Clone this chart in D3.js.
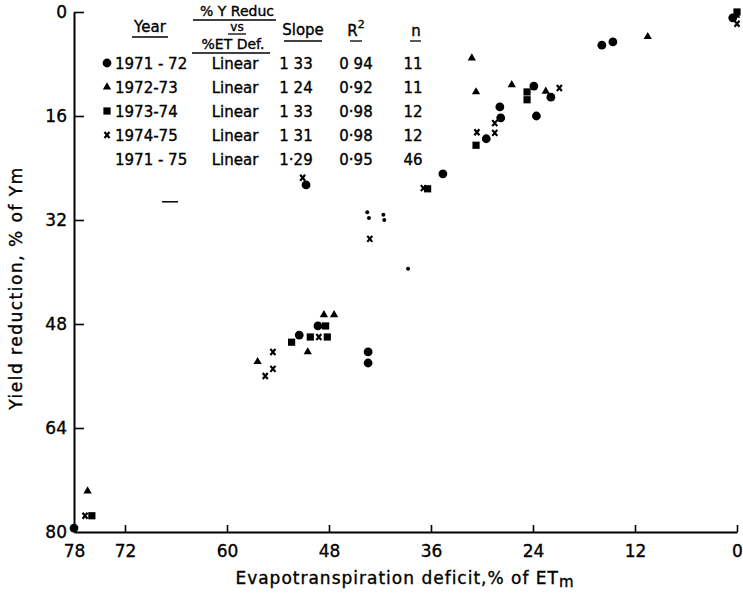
<!DOCTYPE html>
<html>
<head>
<meta charset="utf-8">
<script src="https://cdn.jsdelivr.net/npm/d3@7"></script>
<style>
  body { margin: 0; background: #fff; }
  text { font-family: "DejaVu Sans", sans-serif; fill: #000; stroke: #000; stroke-width: 0.35px; }
</style>
</head>
<body>
<div id="container"></div>
<script>
let w = 743;
let h = 595;

// data: [deficit %, yield reduction %]
let circles = [[78,79.4],[49.3,48.3],[51.5,49.7],[43.4,52.3],[43.4,54.0],[50.7,26.6],[34.6,24.9],
  [23.9,11.4],[21.9,13.1],[27.9,14.6],[27.8,16.3],[23.6,16.0],[29.5,19.5],[15.9,5.1],[14.6,4.6],[0.5,0.9]];
let triangles = [[76.4,73.7],[48.6,46.6],[47.4,46.6],[50.5,52.3],[56.4,53.8],[31.2,7.1],[30.7,12.3],
  [26.5,11.2],[22.5,12.2],[10.5,3.8],[0.1,0.5]];
let squares = [[75.9,77.5],[48.4,48.3],[50.2,50],[48.2,50],[52.4,50.8],[36.4,27.2],[24.7,12.3],
  [24.7,13.5],[30.7,20.5],[0,0]];
let crosses = [[76.7,77.5],[49.2,50],[54.6,52.3],[54.6,54.9],[55.5,56.0],[51.1,25.5],[36.9,27.1],
  [43.2,34.9],[20.9,11.7],[28.5,17.1],[30.6,18.5],[28.5,18.6],[0,1.8]];
let dots = [[43.5,30.8],[43.3,31.7],[41.6,31.2],[41.5,32.0],[38.7,39.5]];
let dashes = [[66.7,29.2]];

let xTicks = [78,72,60,48,36,24,12,0];
let yTicks = [0,16,32,48,64,80];

let years = ["1971 - 72","1972-73","1973-74","1974-75","1971 - 75"];
let models = ["Linear","Linear","Linear","Linear","Linear"];
let slopes = ["1 33","1 24","1 33","1 31","1·29"];
let rsq = ["0 94","0·92","0·98","0·98","0·95"];
let ns = ["11","11","12","12","46"];
let rowMarkers = ["circle","triangle","square","cross",null];

let viz = d3.select("#container")
    .append("svg")
      .attr("width", w)
      .attr("height", h)
      .style("background-color", "white");

let xScale = d3.scaleLinear().domain([78, 0]).range([74, 737]);
let yScale = d3.scaleLinear().domain([0, 80]).range([12, 532]);

// axes
let xAxis = d3.axisBottom(xScale).tickValues(xTicks).tickSize(-7).tickSizeOuter(0).tickPadding(13);
let xAxisGroup = viz.append("g").attr("class", "xaxis")
    .attr("transform", "translate(0," + yScale(80) + ")")
    .call(xAxis);

let yAxis = d3.axisLeft(yScale).tickValues(yTicks).tickSize(-10).tickSizeOuter(0).tickPadding(7);
let yAxisGroup = viz.append("g").attr("class", "yaxis")
    .attr("transform", "translate(" + xScale(78) + ",0)")
    .call(yAxis);

viz.selectAll(".xaxis path, .yaxis path").attr("stroke", "#000").attr("stroke-width", 2);
viz.selectAll(".xaxis line, .yaxis line").attr("stroke", "#000").attr("stroke-width", 1.6);
viz.selectAll(".xaxis text, .yaxis text").attr("font-size", 17).attr("font-family", "DejaVu Sans");
xAxisGroup.selectAll(".tick").filter(d => d == 78).select("line").remove();
yAxisGroup.selectAll(".tick").filter(d => d == 80).select("line").remove();

// axis titles
viz.append("text")
    .attr("x", 405).attr("y", 584)
    .attr("text-anchor", "middle")
    .attr("font-size", 17)
    .attr("letter-spacing", 1)
    .html('Evapotranspiration deficit,% of ET<tspan font-size="15" dy="3">m</tspan>');

viz.append("text")
    .attr("transform", "translate(22,288) rotate(-90)")
    .attr("text-anchor", "middle")
    .attr("font-size", 17)
    .attr("letter-spacing", 1.5)
    .text("Yield reduction, % of Ym");

// marker drawing
function drawMarker(g, type, cx, cy){
  if(type == "circle"){
    g.append("circle").attr("cx", cx).attr("cy", cy).attr("r", 4.4);
  } else if(type == "triangle"){
    g.append("path").attr("d", d3.symbol().type(d3.symbolTriangle).size(30)())
      .attr("transform", "translate(" + cx + "," + cy + ")");
  } else if(type == "square"){
    g.append("rect").attr("x", cx - 3.6).attr("y", cy - 3.6).attr("width", 7.2).attr("height", 7.2);
  } else if(type == "cross"){
    g.append("path").attr("d", "M-2.5,-3L2.5,3M2.5,-3L-2.5,3")
      .attr("transform", "translate(" + cx + "," + cy + ")")
      .attr("stroke", "#000").attr("stroke-width", 2.2);
  } else if(type == "dot"){
    g.append("circle").attr("cx", cx).attr("cy", cy).attr("r", 2);
  } else if(type == "dash"){
    g.append("line").attr("x1", cx - 8).attr("x2", cx + 8).attr("y1", cy).attr("y2", cy)
      .attr("stroke", "#000").attr("stroke-width", 1.5);
  }
}

let pts = viz.append("g").attr("fill", "#000");
let sets = [["circle", circles],["triangle", triangles],["square", squares],["cross", crosses],["dot", dots],["dash", dashes]];
sets.forEach(function(s){
  s[1].forEach(function(d){
    drawMarker(pts, s[0], xScale(d[0]), yScale(d[1]));
  });
});

// legend table
let leg = viz.append("g").attr("font-size", 15);
function header(txt, x, y, ux1, ux2, uy, fs){
  leg.append("text").attr("x", x).attr("y", y).attr("text-anchor", "middle")
    .attr("font-size", fs || 15).text(txt);
  leg.append("line").attr("x1", ux1).attr("x2", ux2).attr("y1", uy).attr("y2", uy)
    .attr("stroke", "#000").attr("stroke-width", 1.3);
}
header("Year", 150, 32, 132, 168, 37);
header("% Y Reduc", 237, 16, 193, 276, 20, 14);
header("vs", 237, 31, 228, 246, 34, 12);
header("%ET Def.", 233, 49, 192, 270, 53, 14);
header("Slope", 303, 35, 284, 322, 41);
header("n", 416, 36, 410, 421, 41);
leg.append("text").attr("x", 356).attr("y", 36).attr("text-anchor", "middle")
  .html('R<tspan font-size="11" dy="-8">2</tspan>');
leg.append("line").attr("x1", 350).attr("x2", 362).attr("y1", 41).attr("y2", 41)
  .attr("stroke", "#000").attr("stroke-width", 1.3);

years.forEach(function(yr, i){
  let by = 69 + i * 24;
  if(rowMarkers[i]) drawMarker(leg, rowMarkers[i], 107, by - 6);
  leg.append("text").attr("x", 115).attr("y", by).text(yr);
  leg.append("text").attr("x", 235).attr("y", by).attr("text-anchor", "middle").text(models[i]);
  leg.append("text").attr("x", 296).attr("y", by).attr("text-anchor", "middle").text(slopes[i]);
  leg.append("text").attr("x", 356).attr("y", by).attr("text-anchor", "middle").text(rsq[i]);
  leg.append("text").attr("x", 413).attr("y", by).attr("text-anchor", "middle").text(ns[i]);
});
</script>
</body>
</html>
